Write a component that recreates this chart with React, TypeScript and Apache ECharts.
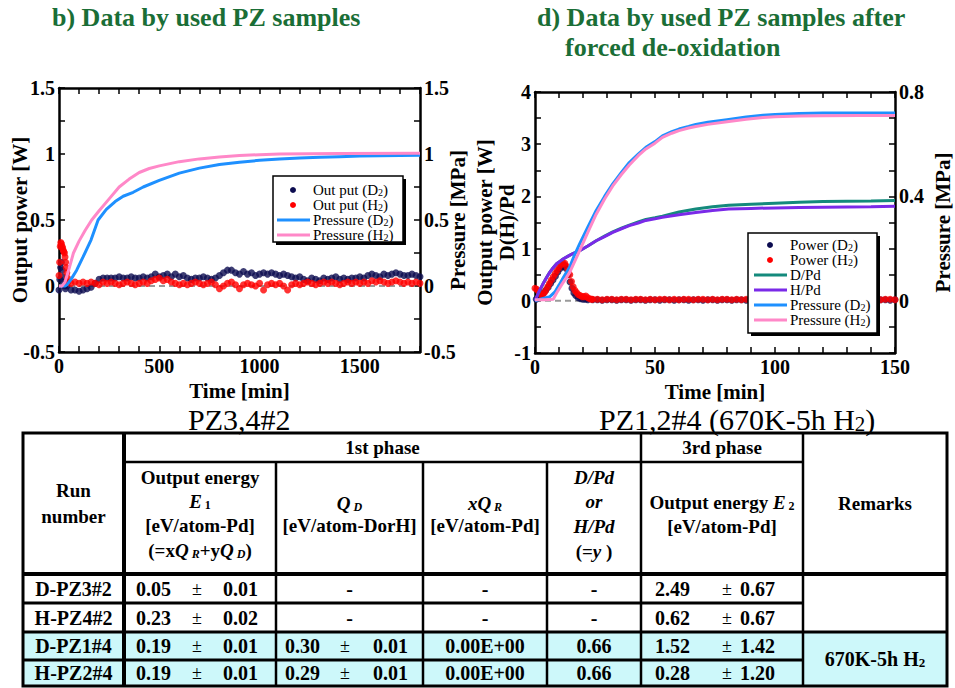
import React, { useEffect, useRef } from 'react';
import * as echarts from 'echarts';

const FONT = 'Liberation Serif';

// ---------- Chart b (PZ3,4#2) ----------
const B_T0 = 40;
const B_STEP = 20;
const bD2Early = [[0, -0.03], [4, 0.05], [8, 0.14], [12, 0.18], [16, 0.12], [20, 0.07], [24, 0.03], [28, 0.0], [32, -0.02]];
const bD2Power = [
  0.00, -0.03, -0.03, -0.04, -0.03, -0.02, -0.01, 0.02, 0.05, 0.06,
  0.06, 0.06, 0.06, 0.07, 0.06, 0.06, 0.07, 0.06, 0.06, 0.07,
  0.06, 0.07, 0.09, 0.07, 0.08, 0.09, 0.07, 0.09, 0.07, 0.08,
  0.06, 0.05, 0.06, 0.06, 0.07, 0.06, 0.05, 0.06, 0.08, 0.10,
  0.12, 0.12, 0.10, 0.09, 0.11, 0.09, 0.10, 0.08, 0.09, 0.10,
  0.09, 0.10, 0.09, 0.08, 0.09, 0.08, 0.07, 0.06, 0.07, 0.05,
  0.04, 0.06, 0.05, 0.04, 0.06, 0.05, 0.06, 0.07, 0.05, 0.06,
  0.05, 0.06, 0.06, 0.07, 0.06, 0.08, 0.09, 0.08, 0.07, 0.09,
  0.08, 0.09, 0.10, 0.09, 0.08, 0.08, 0.09, 0.08, 0.07,
];
const bH2Early = [[0, 0.08], [3, 0.18], [6, 0.3], [9, 0.33], [12, 0.32], [15, 0.3], [18, 0.29], [21, 0.27], [24, 0.26], [27, 0.25], [30, 0.22], [33, 0.18], [36, 0.14], [39, 0.1], [42, 0.06], [45, 0.03]];
const bH2Power = [
  0.03, 0.02, 0.03, 0.02, 0.03, 0.02, 0.03, 0.02, 0.01, 0.03,
  0.02, 0.03, 0.02, 0.01, 0.02, 0.03, 0.02, 0.01, 0.02, 0.03,
  0.02, 0.04, 0.05, 0.06, 0.04, 0.05, 0.03, 0.02, 0.01, 0.02,
  0.01, 0.02, 0.03, 0.02, 0.01, 0.02, 0.03, 0.01, -0.02, 0.00,
  0.02, 0.03, 0.01, -0.02, 0.01, 0.02, 0.01, 0.00, 0.02, -0.03,
  0.01, 0.02, 0.01, 0.02, 0.00, -0.03, 0.01, 0.02, 0.01, 0.02,
  0.03, 0.02, 0.01, 0.02, 0.03, 0.02, 0.03, 0.02, 0.01, 0.02,
  0.03, 0.02, 0.03, 0.02, 0.03, 0.02, 0.04, 0.03, 0.04, 0.03,
  0.02, 0.03, 0.04, 0.03, 0.02, 0.03, 0.02, 0.03, 0.02,
];
const bPressD2 = [[0, 0], [30, 0], [40, 0.01], [60, 0.05], [88, 0.12], [120, 0.22], [160, 0.35], [195, 0.5], [236, 0.58], [280, 0.64], [320, 0.68], [370, 0.71], [420, 0.75], [500, 0.8], [600, 0.855], [700, 0.893], [800, 0.92], [900, 0.938], [1000, 0.952], [1100, 0.962], [1200, 0.97], [1300, 0.975], [1400, 0.98], [1500, 0.984], [1600, 0.987], [1700, 0.989], [1800, 0.99]];
const bPressH2 = [[0, 0], [15, 0], [30, 0.03], [50, 0.13], [72, 0.25], [100, 0.34], [130, 0.42], [163, 0.5], [200, 0.57], [250, 0.66], [300, 0.75], [350, 0.81], [400, 0.86], [450, 0.89], [500, 0.91], [600, 0.942], [700, 0.963], [800, 0.978], [900, 0.988], [1000, 0.995], [1100, 1.0], [1400, 1.003], [1800, 1.005]];

// ---------- Chart d (PZ1,2#4) ----------
const D_T0 = 24;
const D_STEP = 2;
const dD2Early = [[0.5, 0.03], [1.5, 0.06], [2.5, 0.1], [3.5, 0.15], [4.5, 0.2], [5.5, 0.26], [6.5, 0.33], [7.5, 0.4], [8.5, 0.47], [9.5, 0.55], [10.5, 0.62], [11.5, 0.66], [12.3, 0.68], [13, 0.62], [13.8, 0.5], [14.6, 0.36], [15.4, 0.24], [16.2, 0.15], [17, 0.1], [18, 0.06], [19, 0.04], [20, 0.03], [21, 0.03], [22, 0.02]];
const dD2Power = [
  0.02, 0.02, 0.01, 0.02, 0.02, 0.01, 0.02, 0.02, 0.01, 0.02,
  0.02, 0.01, 0.02, 0.02, 0.01, 0.02, 0.02, 0.01, 0.02, 0.02,
  0.01, 0.02, 0.02, 0.01, 0.02, 0.02, 0.01, 0.02, 0.02, 0.01,
  0.02, 0.02, 0.01, 0.02, 0.02, 0.01, 0.02, 0.02, 0.01, 0.02,
  0.02, 0.01, 0.02, 0.02, 0.01, 0.02, 0.02, 0.01, 0.02, 0.02,
  0.01, 0.02, 0.02, 0.01, 0.02, 0.02, 0.01, 0.02, 0.02, 0.01,
  0.02, 0.02, 0.01, 0.02,
];
const dH2Early = [[0, 0.24], [0.7, 0.22], [1.5, 0.18], [2.3, 0.12], [3, 0.1], [3.8, 0.15], [4.5, 0.2], [5.3, 0.27], [6, 0.33], [6.8, 0.4], [7.6, 0.46], [8.4, 0.52], [9.2, 0.58], [10, 0.64], [10.8, 0.69], [11.6, 0.72], [12.4, 0.72], [13.1, 0.66], [13.8, 0.58], [14.5, 0.5], [15.2, 0.37], [15.9, 0.27], [16.6, 0.2], [17.3, 0.16], [18, 0.12], [18.8, 0.1], [19.6, 0.08], [20.4, 0.08], [21.2, 0.09], [22, 0.06], [22.8, 0.04], [23.6, 0.03]];
const dH2Power = [
  0.03, 0.03, 0.02, 0.03, 0.03, 0.02, 0.03, 0.03, 0.02, 0.03,
  0.03, 0.02, 0.03, 0.02, 0.03, 0.03, 0.02, 0.03, 0.02, 0.03,
  0.03, 0.02, 0.03, 0.03, 0.02, 0.03, 0.02, 0.03, 0.03, 0.02,
  0.03, 0.02, 0.03, 0.03, 0.02, 0.03, 0.03, 0.02, 0.03, 0.02,
  0.03, 0.03, 0.02, 0.03, 0.02, 0.03, 0.03, 0.02, 0.03, 0.02,
  0.03, 0.03, 0.02, 0.03, 0.03, 0.02, 0.03, 0.02, 0.03, 0.03,
  0.02, 0.03, 0.03, 0.02,
];
const dDPd = [[0, 0], [1, 0.1], [2, 0.2], [3.4, 0.33], [5, 0.46], [6.2, 0.55], [7.5, 0.63], [9, 0.71], [10.5, 0.76], [11.7, 0.8], [14, 0.86], [16, 0.91], [18.6, 0.96], [22, 1.05], [25.5, 1.15], [29, 1.24], [32.4, 1.32], [36, 1.39], [39.3, 1.45], [43, 1.51], [46.2, 1.56], [50, 1.59], [53.1, 1.62], [60, 1.7], [67, 1.76], [74, 1.8], [80.7, 1.83], [90, 1.85], [100, 1.87], [110, 1.89], [120, 1.9], [130, 1.905], [140, 1.91], [150, 1.92]];
const dHPd = [[0, 0], [1, 0.11], [2, 0.21], [3.4, 0.33], [5, 0.46], [6.2, 0.55], [7.5, 0.63], [9, 0.71], [10.5, 0.76], [11.7, 0.8], [14, 0.86], [16, 0.91], [18.6, 0.96], [22, 1.05], [25.5, 1.15], [29, 1.23], [32.4, 1.31], [36, 1.38], [39.3, 1.44], [43, 1.49], [46.2, 1.54], [50, 1.57], [53.1, 1.6], [60, 1.65], [67, 1.69], [74, 1.73], [80.7, 1.76], [90, 1.77], [100, 1.78], [110, 1.785], [120, 1.79], [130, 1.795], [140, 1.8], [150, 1.81]];
const dPressD2 = [[0, 0], [3, 0.008], [6.2, 0.016], [8.3, 0.034], [10, 0.06], [12, 0.092], [14.5, 0.13], [16.5, 0.176], [18.6, 0.218], [22, 0.282], [25.5, 0.346], [29, 0.4], [32.4, 0.448], [36, 0.492], [39.3, 0.53], [43, 0.562], [46.2, 0.588], [50, 0.61], [53.1, 0.632], [57, 0.648], [60, 0.658], [64, 0.668], [67, 0.676], [72, 0.684], [80, 0.694], [88, 0.704], [95, 0.711], [100, 0.714], [110, 0.718], [120, 0.72], [135, 0.72], [150, 0.72]];
const dPressH2 = [[0, 0.004], [4, 0.004], [7.6, 0.006], [9, 0.03], [11, 0.06], [13, 0.088], [14.5, 0.11], [16.5, 0.15], [18.6, 0.192], [22, 0.262], [25.5, 0.332], [29, 0.39], [32.4, 0.44], [36, 0.484], [39.3, 0.52], [43, 0.556], [46.2, 0.582], [50, 0.604], [53.1, 0.626], [57, 0.642], [60, 0.652], [64, 0.662], [67, 0.668], [72, 0.676], [80, 0.686], [88, 0.696], [95, 0.702], [100, 0.705], [110, 0.708], [120, 0.709], [135, 0.71], [150, 0.71]];

// ---------- Table ----------
const RUNS = ['D-PZ3#2', 'H-PZ4#2', 'D-PZ1#4', 'H-PZ2#4'];
const E1_VAL = ['0.05', '0.23', '0.19', '0.19'];
const E1_ERR = ['0.01', '0.02', '0.01', '0.01'];
const QD_VAL = ['-', '-', '0.30', '0.29'];
const QD_ERR = ['', '', '0.01', '0.01'];
const XQR_VAL = ['-', '-', '0.00E+00', '0.00E+00'];
const DPD_VAL = ['-', '-', '0.66', '0.66'];
const E2_VAL = ['2.49', '0.62', '1.52', '0.28'];
const E2_ERR = ['0.67', '0.67', '1.42', '1.20'];
const REMARK = '670K-5h H';

const C_NAVY = '#0c0c50';
const C_RED = '#ff0000';
const C_BLUE = '#1e90ff';
const C_PINK = '#ff88c8';
const C_TEAL = '#148a7c';
const C_PURPLE = '#7a2ae8';
const C_GREEN = '#1a6e36';
const C_CYAN = '#cdf8fa';

const series = (early: number[][], vals: number[], t0: number, step: number) =>
  early.concat(vals.map((v, i) => [t0 + i * step, v]));

const axisLine = { show: true, onZero: false, lineStyle: { color: '#000', width: 2.5 } };
const axisTick = { show: true, inside: true, length: 6, lineStyle: { color: '#000', width: 1.5 } };
const lab = (fmt: (v: number) => string) => ({
  show: true, color: '#000', fontFamily: FONT, fontWeight: 'bold', fontSize: 20, margin: 4, formatter: fmt,
});
const nameStyle = { color: '#000', fontFamily: FONT, fontWeight: 'bold', fontSize: 21, lineHeight: 22 };

const near = (v: number, k: number) => Math.abs(v * k - Math.round(v * k)) < 1e-6;

type TO = { size?: number; weight?: string; style?: string; align?: string; rich?: any; fill?: string };
const T = (x: number, y: number, text: string, o: TO = {}) => ({
  type: 'text', x, y, z: 110, silent: true,
  style: {
    text, fill: o.fill || '#000', fontFamily: FONT, fontSize: o.size || 20,
    fontWeight: o.weight || 'bold', fontStyle: o.style || 'normal',
    align: o.align || 'center', verticalAlign: 'middle', rich: o.rich,
  },
});
const L = (x1: number, y1: number, x2: number, y2: number, w: number, color = '#000', z = 105) => ({
  type: 'line', z, silent: true, shape: { x1, y1, x2, y2 }, style: { stroke: color, lineWidth: w },
});

const legRich = {
  n: { fontFamily: FONT, fontSize: 15, fill: '#000' },
  s: { fontFamily: FONT, fontSize: 10, fill: '#000', verticalAlign: 'bottom' },
};
const sub = (a: string, s: string, b: string) => `{n|${a}}{s|${s}}{n|${b}}`;

const thRich = {
  b: { fontFamily: FONT, fontSize: 19, fontWeight: 'bold', fill: '#000' },
  bi: { fontFamily: FONT, fontSize: 19, fontWeight: 'bold', fontStyle: 'italic', fill: '#000' },
  s: { fontFamily: FONT, fontSize: 12, fontWeight: 'bold', fill: '#000', verticalAlign: 'bottom' },
  si: { fontFamily: FONT, fontSize: 12, fontWeight: 'bold', fontStyle: 'italic', fill: '#000', verticalAlign: 'bottom' },
};

function buildGraphic() {
  const g: any[] = [];
  // titles
  g.push(T(52, 17, 'b) Data by used PZ samples', { size: 26, align: 'left', fill: C_GREEN }));
  g.push(T(537, 17, 'd) Data by used PZ samples after', { size: 26, align: 'left', fill: C_GREEN }));
  g.push(T(565, 47, 'forced de-oxidation', { size: 26, align: 'left', fill: C_GREEN }));
  // subtitles
  g.push(T(188, 419, 'PZ3,4#2', { size: 30, weight: 'normal', align: 'left' }));
  g.push(T(599, 419, '{a|PZ1,2#4 (670K-5h H}{s|2}{a|)}', {
    size: 30, weight: 'normal', align: 'left',
    rich: { a: { fontFamily: FONT, fontSize: 30, fill: '#000', lineHeight: 30 }, s: { fontFamily: FONT, fontSize: 21, fill: '#000', verticalAlign: 'bottom', lineHeight: 26 } },
  }));

  // legend b
  g.push({ type: 'rect', z: 100, silent: true, shape: { x: 276, y: 179, width: 130, height: 66 }, style: { fill: '#000' } });
  g.push({ type: 'rect', z: 101, silent: true, shape: { x: 273, y: 176, width: 130, height: 66 }, style: { fill: '#fff', stroke: '#000', lineWidth: 1.5 } });
  const bRows = [190, 205, 220, 235];
  g.push({ type: 'circle', z: 102, silent: true, shape: { cx: 293, cy: bRows[0], r: 3 }, style: { fill: C_NAVY } });
  g.push({ type: 'circle', z: 102, silent: true, shape: { cx: 293, cy: bRows[1], r: 3 }, style: { fill: C_RED } });
  g.push(L(277, bRows[2], 310, bRows[2], 3, C_BLUE, 102));
  g.push(L(277, bRows[3], 310, bRows[3], 3, C_PINK, 102));
  g.push(T(313, bRows[0], sub('Out put (D', '2', ')'), { align: 'left', rich: legRich }));
  g.push(T(313, bRows[1], sub('Out put (H', '2', ')'), { align: 'left', rich: legRich }));
  g.push(T(313, bRows[2], sub('Pressure (D', '2', ')'), { align: 'left', rich: legRich }));
  g.push(T(313, bRows[3], sub('Pressure (H', '2', ')'), { align: 'left', rich: legRich }));

  // legend d
  g.push({ type: 'rect', z: 100, silent: true, shape: { x: 751, y: 236, width: 129, height: 100 }, style: { fill: '#000' } });
  g.push({ type: 'rect', z: 101, silent: true, shape: { x: 748, y: 233, width: 129, height: 100 }, style: { fill: '#fff', stroke: '#000', lineWidth: 1.5 } });
  const dRows = [245, 260, 275, 290, 305, 320];
  g.push({ type: 'circle', z: 102, silent: true, shape: { cx: 770, cy: dRows[0], r: 3 }, style: { fill: C_NAVY } });
  g.push({ type: 'circle', z: 102, silent: true, shape: { cx: 770, cy: dRows[1], r: 3 }, style: { fill: C_RED } });
  g.push(L(754, dRows[2], 787, dRows[2], 3, C_TEAL, 102));
  g.push(L(754, dRows[3], 787, dRows[3], 3, C_PURPLE, 102));
  g.push(L(754, dRows[4], 787, dRows[4], 3, C_BLUE, 102));
  g.push(L(754, dRows[5], 787, dRows[5], 3, C_PINK, 102));
  g.push(T(790, dRows[0], sub('Power (D', '2', ')'), { align: 'left', rich: legRich }));
  g.push(T(790, dRows[1], sub('Power (H', '2', ')'), { align: 'left', rich: legRich }));
  g.push(T(790, dRows[2], '{n|D/Pd}', { align: 'left', rich: legRich }));
  g.push(T(790, dRows[3], '{n|H/Pd}', { align: 'left', rich: legRich }));
  g.push(T(790, dRows[4], sub('Pressure (D', '2', ')'), { align: 'left', rich: legRich }));
  g.push(T(790, dRows[5], sub('Pressure (H', '2', ')'), { align: 'left', rich: legRich }));

  // ---- table ----
  const XL = 23, C1 = 124, C2 = 276, C3 = 423, C4 = 547, C5 = 641, C6 = 803, XR = 947;
  const YT = 433, H1 = 462, H2 = 574, R1 = 603, R2 = 632, R3 = 660, YB = 686;
  g.push({ type: 'rect', z: 100, silent: true, shape: { x: XL, y: R2, width: XR - XL, height: YB - R2 }, style: { fill: C_CYAN } });
  g.push({ type: 'rect', z: 105, silent: true, shape: { x: XL, y: YT, width: XR - XL, height: YB - YT }, style: { fill: 'none', stroke: '#000', lineWidth: 3 } });
  g.push(L(C1, YT, C1, YB, 4));
  [C2, C3, C4].forEach((x) => g.push(L(x, H1, x, YB, 2.5)));
  [C5, C6].forEach((x) => g.push(L(x, YT, x, YB, 2.5)));
  g.push(L(C1, H1, C6, H1, 2.5));
  g.push(L(XL, H2, XR, H2, 4));
  g.push(L(XL, R1, C6, R1, 3));
  g.push(L(XL, R2, XR, R2, 3));
  g.push(L(XL, R3, C6, R3, 3));

  const th = (x: number, y: number, s: string) => g.push(T(x, y, s, { rich: thRich }));
  th((XL + C1) / 2, 490, '{b|Run}');
  th((XL + C1) / 2, 516, '{b|number}');
  th((C1 + C5) / 2, 447, '{b|1st phase}');
  th((C5 + C6) / 2, 447, '{b|3rd phase}');
  const e1x = (C1 + C2) / 2;
  th(e1x, 477, '{b|Output energy}');
  th(e1x, 501, '{bi|E}{s| 1}');
  th(e1x, 525, '{b|[eV/atom-Pd]}');
  th(e1x, 550, '{b|(=x}{bi|Q}{si| R}{b|+y}{bi|Q}{si| D}{b|)}');
  const qdx = (C2 + C3) / 2;
  th(qdx, 503, '{bi|Q}{si| D}');
  th(qdx, 525, '{b|[eV/atom-DorH]}');
  const xqx = (C3 + C4) / 2;
  th(xqx, 503, '{bi|xQ}{si| R}');
  th(xqx, 525, '{b|[eV/atom-Pd]}');
  const dpx = (C4 + C5) / 2;
  th(dpx, 477, '{bi|D/Pd}');
  th(dpx, 501, '{bi|or}');
  th(dpx, 526, '{bi|H/Pd}');
  th(dpx, 551, '{b|(=}{bi|y}{b| )}');
  const e2x = (C5 + C6) / 2;
  th(e2x, 502, '{b|Output energy }{bi|E}{s| 2}');
  th(e2x, 526, '{b|[eV/atom-Pd]}');
  th((C6 + XR) / 2, 503, '{b|Remarks}');

  const rowY = [(H2 + R1) / 2, (R1 + R2) / 2, (R2 + R3) / 2, (R3 + YB) / 2];
  RUNS.forEach((r, i) => {
    const y = rowY[i];
    g.push(T((XL + C1) / 2, y, r));
    g.push(T(136, y, E1_VAL[i], { align: 'left' }));
    g.push(T(197, y, '±', { size: 18, weight: 'normal' }));
    g.push(T(223, y, E1_ERR[i], { align: 'left' }));
    if (QD_ERR[i]) {
      g.push(T(285, y, QD_VAL[i], { align: 'left' }));
      g.push(T(345, y, '±', { size: 18, weight: 'normal' }));
      g.push(T(373, y, QD_ERR[i], { align: 'left' }));
    } else {
      g.push(T(qdx, y, QD_VAL[i]));
    }
    g.push(T(xqx, y, XQR_VAL[i]));
    g.push(T(dpx, y, DPD_VAL[i]));
    g.push(T(655, y, E2_VAL[i], { align: 'left' }));
    g.push(T(727, y, '±', { size: 18, weight: 'normal' }));
    g.push(T(740, y, E2_ERR[i], { align: 'left' }));
  });
  g.push(T((C6 + XR) / 2, (R2 + YB) / 2, `{a|${REMARK}}{s|2}`, {
    rich: {
      a: { fontFamily: FONT, fontSize: 20, fontWeight: 'bold', fill: '#000' },
      s: { fontFamily: FONT, fontSize: 13, fontWeight: 'bold', fill: '#000', verticalAlign: 'bottom' },
    },
  }));
  return g;
}

function buildOption() {
  const xCommon = { type: 'value', axisLine, axisTick, splitLine: { show: false }, nameMoveOverlap: false };
  const yCommon = { type: 'value', axisLine, axisTick, splitLine: { show: false }, nameMoveOverlap: false };
  return {
    animation: false,
    backgroundColor: '#fff',
    grid: [
      { left: 59, top: 88, width: 361, height: 264 },
      { left: 535, top: 92, width: 362, height: 261 },
    ],
    xAxis: [
      { ...xCommon, gridIndex: 0, position: 'bottom', min: 0, max: 1800, interval: 100,
        axisLabel: lab((v) => (v % 500 === 0 ? String(v) : '')),
        name: 'Time [min]', nameLocation: 'middle', nameGap: 28, nameTextStyle: nameStyle },
      { ...xCommon, gridIndex: 0, position: 'top', min: 0, max: 1800, interval: 100, axisLabel: { show: false } },
      { ...xCommon, gridIndex: 1, position: 'bottom', min: 0, max: 150, interval: 10,
        axisLabel: lab((v) => (v % 50 === 0 ? String(v) : '')),
        name: 'Time [min]', nameLocation: 'middle', nameGap: 28, nameTextStyle: nameStyle },
      { ...xCommon, gridIndex: 1, position: 'top', min: 0, max: 150, interval: 10, axisLabel: { show: false } },
    ],
    yAxis: [
      { ...yCommon, gridIndex: 0, position: 'left', min: -0.5, max: 1.5, interval: 0.25,
        axisLabel: lab((v) => (near(v, 2) ? String(Math.round(v * 2) / 2) : '')),
        name: 'Output power [W]', nameLocation: 'middle', nameRotate: 90, nameGap: 28, nameTextStyle: nameStyle },
      { ...yCommon, gridIndex: 0, position: 'right', min: -0.5, max: 1.5, interval: 0.25,
        axisLabel: lab((v) => (near(v, 2) ? String(Math.round(v * 2) / 2) : '')),
        name: 'Pressure [MPa]', nameLocation: 'middle', nameRotate: 90, nameGap: 27, nameTextStyle: nameStyle },
      { ...yCommon, gridIndex: 1, position: 'left', min: -1, max: 4, interval: 0.5,
        axisLabel: lab((v) => (near(v, 1) ? String(Math.round(v)) : '')),
        name: 'Output power [W]\nD(H)/Pd', nameLocation: 'middle', nameRotate: 90, nameGap: 17, nameTextStyle: nameStyle },
      { ...yCommon, gridIndex: 1, position: 'right', min: -0.2, max: 0.8, interval: 0.1,
        axisLabel: lab((v) => (near(v, 2.5) && v > -1e-9 ? String(Math.round(v * 10) / 10) : '')),
        name: 'Pressure [MPa]', nameLocation: 'middle', nameRotate: 90, nameGap: 37, nameTextStyle: nameStyle },
    ],
    series: [
      { type: 'line', xAxisIndex: 0, yAxisIndex: 0, data: [[0, 0], [1800, 0]], symbol: 'none', silent: true,
        lineStyle: { color: '#9a9a9a', width: 2, type: [6, 4] }, z: 1 },
      { type: 'scatter', name: 'Out put (D2)', xAxisIndex: 0, yAxisIndex: 0, symbolSize: 7,
        data: series(bD2Early, bD2Power, B_T0, B_STEP), itemStyle: { color: C_NAVY } },
      { type: 'scatter', name: 'Out put (H2)', xAxisIndex: 0, yAxisIndex: 0, symbolSize: 7,
        data: series(bH2Early, bH2Power, B_T0, B_STEP), itemStyle: { color: C_RED } },
      { type: 'line', name: 'Pressure (D2)', xAxisIndex: 0, yAxisIndex: 1, data: bPressD2, symbol: 'none',
        lineStyle: { color: C_BLUE, width: 3 } },
      { type: 'line', name: 'Pressure (H2)', xAxisIndex: 0, yAxisIndex: 1, data: bPressH2, symbol: 'none',
        lineStyle: { color: C_PINK, width: 3 } },

      { type: 'line', xAxisIndex: 2, yAxisIndex: 2, data: [[0, 0], [150, 0]], symbol: 'none', silent: true,
        lineStyle: { color: '#9a9a9a', width: 2, type: [6, 4] }, z: 1 },
      { type: 'scatter', name: 'Power (D2)', xAxisIndex: 2, yAxisIndex: 2, symbolSize: 7,
        data: series(dD2Early, dD2Power, D_T0, D_STEP), itemStyle: { color: C_NAVY } },
      { type: 'scatter', name: 'Power (H2)', xAxisIndex: 2, yAxisIndex: 2, symbolSize: 7,
        data: series(dH2Early, dH2Power, D_T0, D_STEP), itemStyle: { color: C_RED } },
      { type: 'line', name: 'D/Pd', xAxisIndex: 2, yAxisIndex: 2, data: dDPd, symbol: 'none',
        lineStyle: { color: C_TEAL, width: 3 } },
      { type: 'line', name: 'H/Pd', xAxisIndex: 2, yAxisIndex: 2, data: dHPd, symbol: 'none',
        lineStyle: { color: C_PURPLE, width: 3 } },
      { type: 'line', name: 'Pressure (D2)', xAxisIndex: 2, yAxisIndex: 3, data: dPressD2, symbol: 'none',
        lineStyle: { color: C_BLUE, width: 3 } },
      { type: 'line', name: 'Pressure (H2)', xAxisIndex: 2, yAxisIndex: 3, data: dPressH2, symbol: 'none',
        lineStyle: { color: C_PINK, width: 3 } },
    ],
    graphic: buildGraphic(),
  };
}

export default function App() {
  const ref = useRef<HTMLDivElement>(null);
  useEffect(() => {
    if (!ref.current) return;
    const chart = echarts.init(ref.current, null, { renderer: 'svg' });
    chart.setOption(buildOption() as any);
    return () => chart.dispose();
  }, []);
  return (
    <div
      ref={ref}
      style={{ position: 'absolute', left: 0, top: 0, width: 955, height: 688, background: '#fff' }}
    />
  );
}
